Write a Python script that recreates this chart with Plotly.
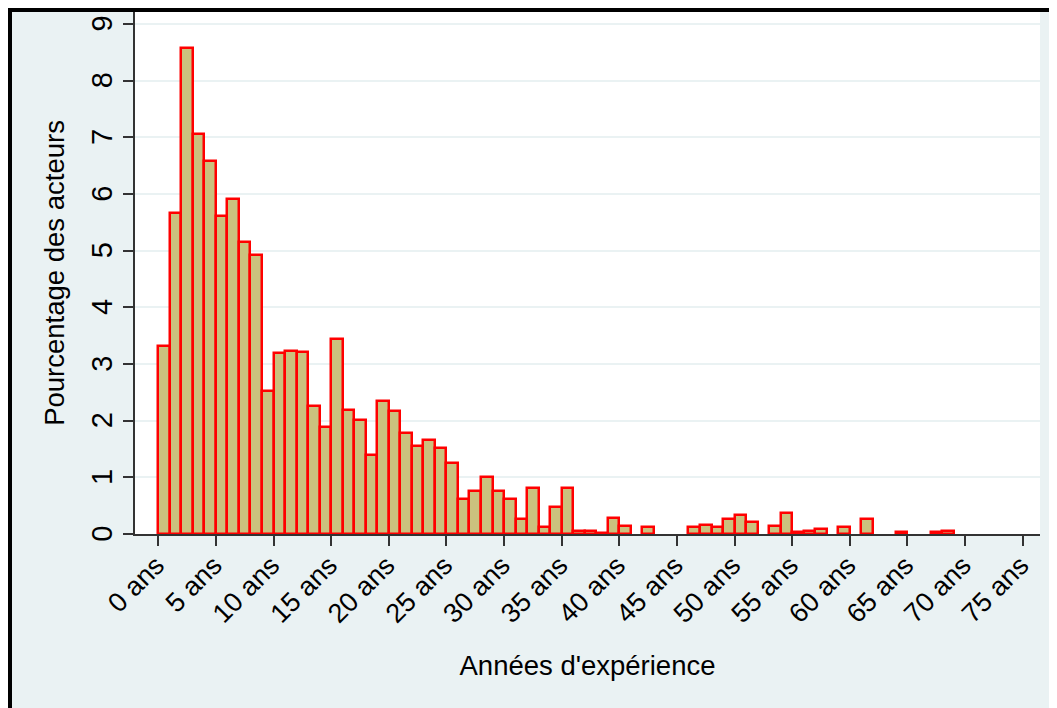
import plotly.graph_objects as go

# Histogram bins: 1-year bins starting at 0 years of experience
bin_start = list(range(0, 69))
pct = [3.32, 5.67, 8.57, 7.05, 6.58, 5.61, 5.91, 5.16, 4.92, 2.52,
       3.20, 3.23, 3.22, 2.26, 1.89, 3.44, 2.19, 2.02, 1.39, 2.35,
       2.17, 1.79, 1.56, 1.66, 1.51, 1.25, 0.62, 0.75, 1.00, 0.75,
       0.62, 0.26, 0.81, 0.13, 0.47, 0.81, 0.05, 0.05, 0.02, 0.29,
       0.14, 0.00, 0.12, 0.00, 0.00, 0.00, 0.12, 0.16, 0.12, 0.26,
       0.34, 0.21, 0.00, 0.15, 0.37, 0.04, 0.06, 0.09, 0.00, 0.12,
       0.00, 0.26, 0.00, 0.00, 0.03, 0.00, 0.00, 0.03, 0.05]

x_tickvals = list(range(0, 80, 5))
x_ticktext = [f"{v} ans" for v in x_tickvals]
y_tickvals = list(range(0, 10))

x_title = "Années d'expérience"
y_title = "Pourcentage des acteurs"

# The page body adds an 8px offset, so the figure fills the rest of the window
W, H = 1049, 700
ML, MR, MT, MB = 127, 17, 4, 174

xs = [b + 0.5 for b, v in zip(bin_start, pct) if v > 0]
ys = [v for v in pct if v > 0]

fig = go.Figure()
fig.add_trace(go.Bar(
    x=xs, y=ys, width=1,
    marker=dict(color="#CBC17E", line=dict(color="#FF0000", width=2.5)),
    hoverinfo="x+y",
))

FONT = "Liberation Sans, Arial, sans-serif"

fig.update_layout(
    width=W, height=H,
    margin=dict(l=ML, r=MR, t=MT, b=MB, pad=0, autoexpand=False),
    paper_bgcolor="#EAF2F3",
    plot_bgcolor="#FFFFFF",
    showlegend=False,
    bargap=0,
    font=dict(family=FONT, color="#000000", size=26),
)

fig.update_xaxes(
    automargin=False,
    range=[-2.02, 76.5],
    tickmode="array", tickvals=x_tickvals, ticktext=x_ticktext,
    tickangle=-45,
    ticks="outside", ticklen=10, tickwidth=1.5, tickcolor="#333333",
    showline=True, linecolor="#333333", linewidth=1.5,
    showgrid=False, zeroline=False,
    tickfont=dict(size=27),
    ticklabelstandoff=-7, ticklabelshift=-2,
    title=dict(text=x_title, font=dict(size=27.5), standoff=28),
)
fig.update_yaxes(
    automargin=False,
    range=[0, 9.21],
    tickmode="array", tickvals=y_tickvals,
    tickangle=-90,
    ticks="outside", ticklen=10, tickwidth=1.5, tickcolor="#333333",
    showline=True, linecolor="#333333", linewidth=1.5,
    showgrid=True, gridcolor="#EAF2F3", gridwidth=2,
    zeroline=False,
    tickfont=dict(size=29),
    ticklabelshift=4,
    title=dict(text=y_title, font=dict(size=27.5), standoff=13),
)

pw = W - ML - MR
ph = H - MT - MB


def px_x(p):
    return (p - ML) / pw


def px_y(p):
    return (H - MB - p) / ph


shapes = [
    dict(type="rect", xref="paper", yref="paper", x0=px_x(0), x1=px_x(W),
         y0=px_y(4), y1=px_y(0), fillcolor="black", line=dict(width=0)),
    dict(type="rect", xref="paper", yref="paper", x0=px_x(0), x1=px_x(4),
         y0=px_y(H), y1=px_y(0), fillcolor="black", line=dict(width=0)),
]
fig.update_layout(shapes=shapes)

fig.write_html("out.html")
